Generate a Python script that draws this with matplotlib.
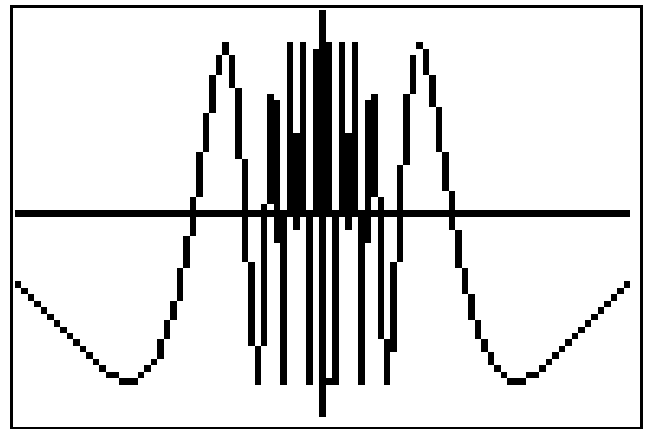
import numpy as np
import matplotlib.pyplot as plt
from matplotlib.patches import Rectangle

# calculator screen: 95 columns x 63 rows, row 0 at the top
n_cols = 95
n_rows = 63
x_axis_row = 31
y_axis_col = 47

# lit pixel runs, one entry per column run
cols = [0, 1, 2, 3, 4, 5, 6, 7, 8, 9, 10, 11, 12, 13, 14, 15, 16, 17, 18, 19,
        20, 21, 22, 23, 24, 25, 26, 27, 28, 29, 30, 31, 32, 33, 34, 35, 36, 37,
        38, 39, 40, 41, 42, 43, 44, 45, 46, 48, 48, 49, 50, 51, 52, 53, 54, 55,
        56, 57, 58, 59, 60, 61, 62, 63, 64, 65, 66, 67, 68, 69, 70, 71, 72, 73,
        74, 75, 76, 77, 78, 79, 80, 81, 82, 83, 84, 85, 86, 87, 88, 89, 90, 91,
        92, 93, 94]
row_top = [42, 43, 44, 45, 46, 47, 48, 49, 50, 51, 52, 53, 54, 55, 56, 56, 57, 57,
           57, 56, 55, 54, 51, 48, 45, 40, 35, 29, 22, 16, 10, 7, 5, 7, 12, 23, 39,
           52, 30, 13, 14, 31, 5, 19, 5, 31, 6, 5, 57, 31, 5, 19, 5, 31, 14, 13,
           29, 51, 39, 24, 13, 7, 5, 6, 10, 15, 22, 28, 34, 40, 44, 48, 51, 53,
           55, 56, 57, 57, 57, 56, 56, 55, 54, 53, 52, 51, 50, 49, 48, 47, 46, 45,
           44, 43, 42]
row_bot = [42, 43, 44, 45, 46, 47, 48, 49, 50, 51, 52, 53, 54, 55, 56, 56, 57, 57,
           57, 56, 55, 54, 53, 50, 47, 44, 39, 34, 28, 21, 15, 9, 6, 11, 22, 38, 51,
           57, 51, 29, 35, 57, 30, 33, 30, 57, 30, 30, 57, 57, 30, 33, 30, 57, 35, 28,
           50, 57, 52, 38, 23, 12, 5, 9, 14, 21, 27, 33, 39, 43, 47, 50, 52, 54,
           55, 56, 57, 57, 57, 56, 56, 55, 54, 53, 52, 51, 50, 49, 48, 47, 46, 45,
           44, 43, 42]

W, H = 646, 429
fig = plt.figure(figsize=(W / 100, H / 100), dpi=100)
fig.patch.set_facecolor('white')

# screen frame
frame = Rectangle((10.5 / W, 1.5 / H), 630 / W, 422 / H, transform=fig.transFigure,
                  fill=False, edgecolor='black', linewidth=3 * 72 / 100)
fig.patches.append(frame)

ax = fig.add_axes([15 / W, 12 / H, 615 / W, 407 / H])
ax.set_xlim(-0.5, n_cols - 0.5)
ax.set_ylim(n_rows - 0.5, -0.5)
ax.axis('off')

# axes of the graph
ax.axhspan(x_axis_row - 0.5, x_axis_row + 0.5, color='black', lw=0, antialiased=False)
ax.axvspan(y_axis_col - 0.5, y_axis_col + 0.5, color='black', lw=0, antialiased=False)

top = np.array(row_top)
bot = np.array(row_bot)
ax.bar(cols, bot - top + 1, bottom=top - 0.5, width=1.0, color='black',
       linewidth=0, antialiased=False)

plt.savefig('out.png', dpi=100)
